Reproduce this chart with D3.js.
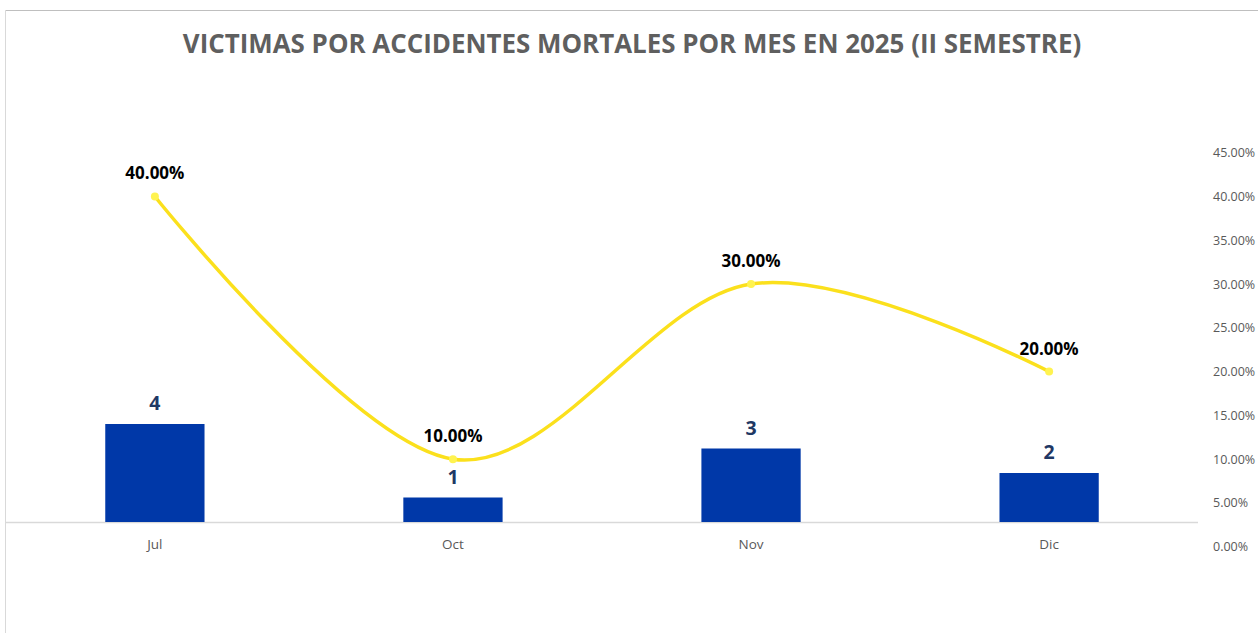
<!DOCTYPE html>
<html>
<head>
<meta charset="utf-8">
<script src="https://cdn.jsdelivr.net/npm/d3@7"></script>
<style>
  html, body { margin: 0; padding: 0; background: #fff; }
  svg { display: block; font-family: "Open Sans", "Noto Sans", sans-serif; }
</style>
</head>
<body>
<svg id="chart" width="1258" height="633"></svg>
<script>
const months = ["Jul", "Oct", "Nov", "Dic"];
const victims = [4, 1, 3, 2];
const shares = [0.40, 0.10, 0.30, 0.20];
const pctTicks = [0, 0.05, 0.10, 0.15, 0.20, 0.25, 0.30, 0.35, 0.40, 0.45];
const title = "VICTIMAS POR ACCIDENTES MORTALES POR MES EN 2025 (II SEMESTRE)";

const W = 1258, H = 633;
const svg = d3.select("#chart");

// chart frame
svg.append("line").attr("x1", 5.5).attr("x2", W).attr("y1", 10.5).attr("y2", 10.5)
	.attr("stroke", "#bfbfbf");
svg.append("line").attr("x1", 5.5).attr("x2", 5.5).attr("y1", 10.5).attr("y2", H)
	.attr("stroke", "#d9d9d9");

// title, fitted to the reference width
const t = svg.append("text")
	.attr("x", 632).attr("y", 53)
	.attr("text-anchor", "middle")
	.attr("font-size", "28px").attr("font-weight", 700)
	.attr("fill", "#5f5f5f")
	.text(title);
const tw = t.node().getComputedTextLength();
t.attr("font-size", (28 * 899 / tw).toFixed(2) + "px");

// scales
const x = d3.scaleBand().domain(months).range([6, 1198]).paddingInner(0.667).paddingOuter(0.333);
const yBar = d3.scaleLinear().domain([0, 16]).range([522, 522 - 16 * 24.5]);
const yPct = d3.scaleLinear().domain([0, 0.45]).range([546.7, 152.7]);

// baseline
svg.append("line")
	.attr("x1", 6).attr("x2", 1198)
	.attr("y1", yBar(0) + 0.5).attr("y2", yBar(0) + 0.5)
	.attr("stroke", "#d9d9d9").attr("stroke-width", 1.5);

// category labels
svg.append("g").selectAll("text").data(months).join("text")
	.attr("x", d => x(d) + x.bandwidth() / 2)
	.attr("y", 549)
	.attr("text-anchor", "middle")
	.attr("font-size", "13.5px").attr("fill", "#595959")
	.text(d => d);

// secondary axis labels
svg.append("g").selectAll("text").data(pctTicks).join("text")
	.attr("x", 1213)
	.attr("y", d => yPct(d) + 4.5)
	.attr("font-size", "12.5px").attr("fill", "#595959")
	.text(d => d3.format(".2%")(d));

// bars
const bars = months.map((m, i) => ({ m, v: victims[i], p: shares[i] }));
svg.append("g").selectAll("rect").data(bars).join("rect")
	.attr("x", d => x(d.m))
	.attr("y", d => yBar(d.v))
	.attr("width", x.bandwidth())
	.attr("height", d => yBar(0) - yBar(d.v))
	.attr("fill", "#0038a8");

svg.append("g").selectAll("text").data(bars).join("text")
	.attr("x", d => x(d.m) + x.bandwidth() / 2)
	.attr("y", d => yBar(d.v) - 14)
	.attr("text-anchor", "middle")
	.attr("font-size", "19.5px").attr("font-weight", 700)
	.attr("fill", "#1f3864")
	.text(d => d.v);

// smoothed percentage line
const line = d3.line()
	.x(d => x(d.m) + x.bandwidth() / 2)
	.y(d => yPct(d.p))
	.curve(d3.curveCardinal.tension(0));
svg.append("path").datum(bars)
	.attr("d", line)
	.attr("fill", "none")
	.attr("stroke", "#fbe01c").attr("stroke-width", 3.5);

svg.append("g").selectAll("circle").data(bars).join("circle")
	.attr("cx", d => x(d.m) + x.bandwidth() / 2)
	.attr("cy", d => yPct(d.p))
	.attr("r", 4)
	.attr("fill", "#fff350");

svg.append("g").selectAll("text").data(bars).join("text")
	.attr("x", d => x(d.m) + x.bandwidth() / 2)
	.attr("y", d => yPct(d.p) - 17)
	.attr("text-anchor", "middle")
	.attr("font-size", "17px").attr("font-weight", 700)
	.attr("fill", "#000")
	.text(d => d3.format(".2%")(d.p));
</script>
</body>
</html>
